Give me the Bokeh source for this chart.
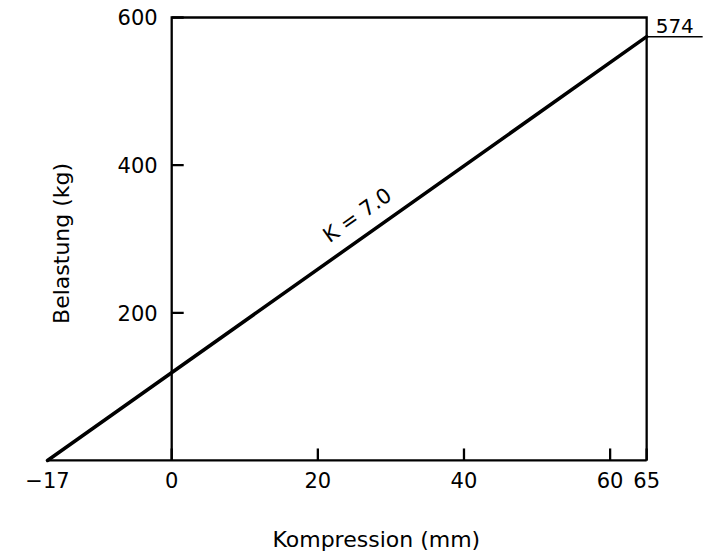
import math
from bokeh.plotting import figure
from bokeh.models import Range1d
from bokeh.core.properties import value
from bokeh.embed import file_html
from bokeh.resources import INLINE

# ---- data ----
x_ticks = [-17, 0, 20, 40, 60, 65]
x_tick_labels = ["\u221217", "0", "20", "40", "60", "65"]
y_ticks = [200, 400, 600]
y_tick_labels = ["200", "400", "600"]
compression = [-17, 65]      # mm
load = [0, 574]              # kg
k_label = "K = 7.0"
end_label = "574"
x_title = "Kompression (mm)"
y_title = "Belastung (kg)"

# ---- layout ----
W, H = 706, 553
xr = Range1d(-23.43, 73.19)
yr = Range1d(-126.0, 623.0)
px = (xr.end - xr.start) / W   # data units per pixel (x)
py = (yr.end - yr.start) / H   # data units per pixel (y)

FONT = value("DejaVu Sans")
BLACK = "#000000"

p = figure(width=W, height=H, x_range=xr, y_range=yr,
           x_axis_type=None, y_axis_type=None,
           toolbar_location=None, output_backend="svg",
           min_border=0, outline_line_color=None,
           background_fill_color="white", border_fill_color="white")

x0 = 0
x_min, x_max = compression[0], compression[-1]
y_top = y_ticks[-1]

# frame: left axis at x=0, top border, right border
p.line([x0, x0, x_max, x_max], [0, y_top, y_top, 0],
       line_color=BLACK, line_width=2.3, line_join="miter")
# baseline
p.line([x_min, x_max], [0, 0], line_color=BLACK, line_width=2.3)

# x tick marks (pointing up)
xt = [t for t in x_ticks if x_min < t]
p.segment(x0=xt, y0=[0] * len(xt), x1=xt, y1=[12 * py] * len(xt),
          line_color=BLACK, line_width=2.3)
# y tick marks (pointing right)
p.segment(x0=[x0] * len(y_ticks), y0=y_ticks,
          x1=[x0 + 12 * px] * len(y_ticks), y1=y_ticks,
          line_color=BLACK, line_width=2.3)

# data line
p.line(compression, load, line_color=BLACK, line_width=3.5, line_cap="round")

# end marker line for 574
p.segment(x0=[x_max], y0=[load[-1]], x1=[x_max + 56 * px], y1=[load[-1]],
          line_color=BLACK, line_width=1.6)
p.text(x=[x_max + 9 * px], y=[load[-1] + 4 * py], text=[end_label],
       text_font=FONT, text_font_size="20px", text_color=BLACK,
       text_align="left", text_baseline="bottom")

# tick labels
p.text(x=x_ticks, y=[-12 * py] * len(x_ticks), text=x_tick_labels,
       text_font=FONT, text_font_size="21px", text_color=BLACK,
       text_align="center", text_baseline="top")
p.text(x=[x0 - 14 * px] * len(y_ticks), y=y_ticks, text=y_tick_labels,
       text_font=FONT, text_font_size="21px", text_color=BLACK,
       text_align="right", text_baseline="middle")

# slope label along the line
slope = (load[-1] - load[0]) / (compression[-1] - compression[0])
ang = math.atan((slope / py) / (1 / px))
kx = 25.4
ky = load[0] + slope * (kx - compression[0]) + 26 * py
p.text(x=[kx], y=[ky], text=[k_label], angle=ang,
       text_font=FONT, text_font_size="21px", text_color=BLACK,
       text_align="center", text_baseline="middle")

# axis titles
p.text(x=[28.0], y=[-79 * py], text=[x_title],
       text_font=FONT, text_font_size="22px", text_color=BLACK,
       text_align="center", text_baseline="middle")
p.text(x=[x0 - 110 * px], y=[294], text=[y_title], angle=math.pi / 2,
       text_font=FONT, text_font_size="22px", text_color=BLACK,
       text_align="center", text_baseline="middle")

open("out.html", "w").write(file_html(p, INLINE))
